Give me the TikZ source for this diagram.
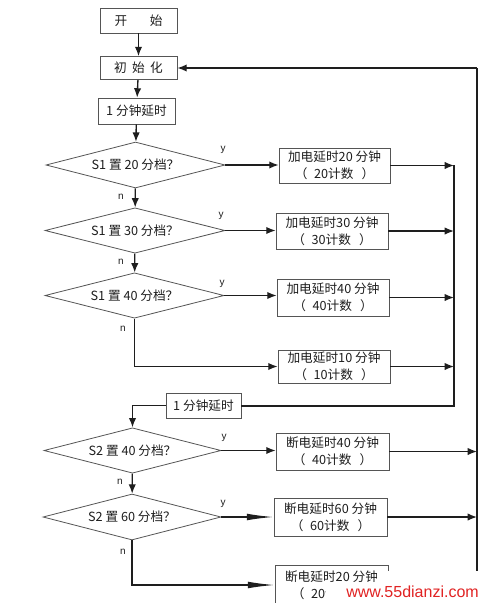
\documentclass[tikz,border=0pt]{standalone}
\usepackage{fontspec}
\setmainfont{Liberation Sans}
\newfontfamily\cjk{Noto Sans CJK SC}
\usetikzlibrary{shapes.geometric,arrows.meta}
\definecolor{ink}{RGB}{30,30,30}
\definecolor{edge}{RGB}{85,85,85}
\definecolor{wmred}{RGB}{225,35,35}
\tikzset{
  box/.style={draw=edge, line width=0.6pt, rectangle, inner sep=0pt, align=center,
    text=ink, font=\cjk\fontsize{9.5}{12.75}\selectfont},
  dia/.style={draw=edge, line width=0.6pt, diamond, inner sep=0pt, aspect=3.9,
    text=ink, font=\cjk\fontsize{9.5}{12}\selectfont},
  conn/.style={draw=ink, line width=1pt, -{Latex[length=7pt,width=5.5pt]}},
  longconn/.style={draw=ink, line width=1pt, -{Latex[length=20pt,width=5pt]}},
  wire/.style={draw=ink, line width=1pt},
  lbl/.style={text=ink, font=\fontsize{7.5}{9}\selectfont, inner sep=0pt}
}
\begin{document}
\begin{tikzpicture}[x=0.75pt,y=-0.75pt]
\useasboundingbox[fill=white] (0,0) rectangle (483,603);

% main column
\node[box, minimum width=57.75pt, minimum height=18.75pt] (start) at (138.5,20.5) {开\hspace{17pt}始};
\node[box, minimum width=57.75pt, minimum height=17.25pt] (init) at (138.5,68) {初\hspace{4pt}始\hspace{4pt}化};
\node[box, minimum width=57.75pt, minimum height=19.5pt] (delay1) at (136.5,111) {1 分钟延时};

\node[dia, minimum width=134.25pt, minimum height=34.5pt] (d1) at (135.5,165) {S1 置 20 分档？};
\node[dia, minimum width=135pt, minimum height=34pt] (d2) at (135,230.5) {S1 置 30 分档？};
\node[dia, minimum width=134.25pt, minimum height=34pt] (d3) at (134.5,295.5) {S1 置 40 分档？};

\node[box, minimum width=83.25pt, minimum height=26.25pt] (b1) at (334.5,165.5) {加电延时20 分钟\\（\hspace{5pt}20计数\hspace{6pt}）};
\node[box, minimum width=84pt, minimum height=27pt] (b2) at (332,231) {加电延时30 分钟\\（\hspace{5pt}30计数\hspace{6pt}）};
\node[box, minimum width=84pt, minimum height=27.75pt] (b3) at (333,297.5) {加电延时40 分钟\\（\hspace{5pt}40计数\hspace{6pt}）};
\node[box, minimum width=84pt, minimum height=24.75pt] (b4) at (334,366.5) {加电延时10 分钟\\（\hspace{5pt}10计数\hspace{6pt}）};

\node[box, minimum width=56.25pt, minimum height=18.75pt] (delay2) at (203.5,405.5) {1 分钟延时};

\node[dia, minimum width=132.75pt, minimum height=34pt] (d4) at (132.5,450.5) {S2 置 40 分档？};
\node[dia, minimum width=133.5pt, minimum height=34.5pt] (d5) at (132,517) {S2 置 60 分档？};

\node[box, minimum width=84.75pt, minimum height=27.75pt] (b5) at (332.5,451.5) {断电延时40 分钟\\（\hspace{5pt}40计数\hspace{6pt}）};
\node[box, minimum width=84.75pt, minimum height=28.5pt] (b6) at (330.5,517) {断电延时60 分钟\\（\hspace{5pt}60计数\hspace{6pt}）};
\node[box, minimum width=84.75pt, minimum height=29.25pt] (b7) at (331.5,585) {断电延时20 分钟\\（\hspace{5pt}20计数\hspace{6pt}）};

% bus coordinates
\coordinate (ibTop) at (454,165);
\coordinate (ibBot) at (454,406);
\coordinate (obTop) at (477,68);
\coordinate (obBot) at (477,585);

% vertical flow
\draw[conn] (start) -- (init);
\draw[conn] (init) -- (delay1);
\draw[conn] (delay1) -- (d1);
\draw[conn] (d1) -- (d2);
\draw[conn] (d2) -- (d3);
\draw[conn] (d3.south) |- (b4.west);
\draw[conn] (delay2.west) -| (d4.north);
\draw[conn] (d4) -- (d5);
\draw[longconn] (d5.south) |- (b7.west);

% yes branches
\draw[conn] (d1.east) -- (d1.east -| b1.west);
\draw[conn] (d2.east) -- (d2.east -| b2.west);
\draw[conn] (d3.east) -- (d3.east -| b3.west);
\draw[conn] (d4.east) -- (d4.east -| b5.west);
\draw[longconn] (d5.east) -- (d5.east -| b6.west);

% to inner bus
\draw[conn] (b1.east) -- (b1.east -| ibTop);
\draw[conn] (b2.east) -- (b2.east -| ibTop);
\draw[conn] (b3.east) -- (b3.east -| ibTop);
\draw[conn] (b4.east) -- (b4.east -| ibTop);
\draw[wire] (ibTop) -- (ibBot) -- (ibBot -| delay2.east);

% to outer bus
\draw[conn] (b5.east) -- (b5.east -| obTop);
\draw[conn] (b6.east) -- (b6.east -| obTop);
\draw[conn] (b7.east) -- (b7.east -| obTop);
\draw[wire] (obBot) -- (obTop);
\draw[conn] (obTop) -- (init.east);

% labels
\node[lbl] (y1) at (223,150) {y};
\node[lbl] (y2) at (221,216) {y};
\node[lbl] (y3) at (222,284) {y};
\node[lbl] (y4) at (224,438) {y};
\node[lbl] (y5) at (223,504) {y};
\node[lbl] (n1) at (121,197) {n};
\node[lbl] (n2) at (121,262) {n};
\node[lbl] (n3) at (123,329) {n};
\node[lbl] (n4) at (120,482) {n};
\node[lbl] (n5) at (123,552) {n};

% watermark
\fill[white] (377,571) rectangle (483,583);
\fill[white] (326,583) rectangle (483,603);
\node[text=wmred, font=\fontsize{12}{14}\selectfont, inner sep=0pt, anchor=west] (wm) at (346,592) {www.55dianzi.com};
\end{tikzpicture}
\end{document}
